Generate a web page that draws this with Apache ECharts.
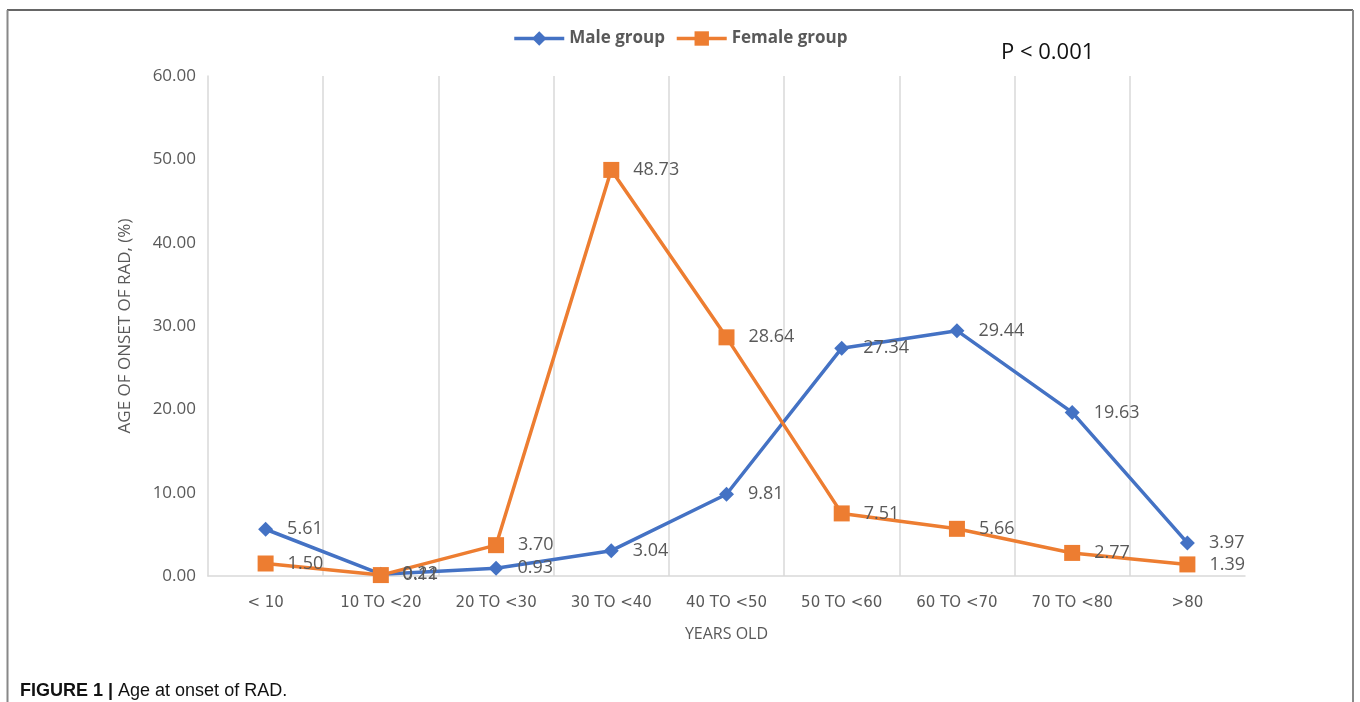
<!DOCTYPE html>
<html>
<head>
<meta charset="utf-8">
<script src="https://cdn.jsdelivr.net/npm/echarts@6/dist/echarts.min.js"></script>
<style>
html,body{margin:0;padding:0;background:#fff;}
#chart{width:1360px;height:702px;}
</style>
</head>
<body>
<div id="chart"></div>
<script>
const categories = ['< 10', '10 TO <20', '20 TO <30', '30 TO <40', '40 TO <50', '50 TO <60', '60 TO <70', '70 TO <80', '>80'];
const maleValues = [5.61, 0.22, 0.93, 3.04, 9.81, 27.34, 29.44, 19.63, 3.97];
const femaleValues = [1.50, 0.11, 3.70, 48.73, 28.64, 7.51, 5.66, 2.77, 1.39];
const yTicks = [0, 10, 20, 30, 40, 50, 60];

const chart = echarts.init(document.getElementById('chart'));
const gray = '#595959';
const font = '"Open Sans", "Noto Sans", sans-serif';
const labelStyle = {
  show: true, position: 'right', distance: 14,
  color: gray, fontSize: 18, fontFamily: font,
  formatter: p => p.value.toFixed(2)
};
chart.setOption({
  animation: false,
  backgroundColor: '#fff',
  legend: {
    top: 25, left: 'center',
    itemWidth: 50, itemHeight: 18, itemGap: 10,
    lineStyle: { width: 3.5 },
    textStyle: { color: gray, fontSize: 17, fontWeight: 'bold', fontFamily: font },
    data: ['Male group', 'Female group']
  },
  grid: { left: 208, right: 115, top: 76, bottom: 126 },
  xAxis: {
    type: 'category', data: categories, boundaryGap: true,
    name: 'YEARS OLD', nameLocation: 'middle', nameGap: 50,
    nameTextStyle: { color: gray, fontSize: 16, fontFamily: font },
    axisLine: { lineStyle: { color: '#d9d9d9', width: 1.5 } },
    axisTick: { show: false },
    axisLabel: { color: gray, fontSize: 15, fontFamily: '"DejaVu Sans", sans-serif', margin: 20, interval: 0 },
    splitLine: { show: true, showMinLine: false, showMaxLine: false, lineStyle: { color: '#d9d9d9', width: 1.5 } }
  },
  yAxis: {
    type: 'value', min: yTicks[0], max: yTicks[yTicks.length - 1], interval: 10,
    name: 'AGE OF ONSET OF RAD, (%)', nameLocation: 'middle', nameGap: 74, nameRotate: 90,
    nameTextStyle: { color: gray, fontSize: 17, fontFamily: font },
    axisLine: { show: true, lineStyle: { color: '#d9d9d9', width: 1.5 } },
    axisTick: { show: false },
    splitLine: { show: false },
    axisLabel: { color: gray, fontSize: 17, fontFamily: font, margin: 12, formatter: v => v.toFixed(2) }
  },
  series: [
    {
      name: 'Male group', type: 'line', data: maleValues,
      symbol: 'diamond', symbolSize: 15,
      itemStyle: { color: '#4472C4' },
      lineStyle: { color: '#4472C4', width: 3.5 },
      label: labelStyle
    },
    {
      name: 'Female group', type: 'line', data: femaleValues,
      symbol: 'rect', symbolSize: 16,
      itemStyle: { color: '#ED7D31' },
      lineStyle: { color: '#ED7D31', width: 3.5 },
      label: labelStyle
    }
  ],
  graphic: [
    { type: 'line', shape: { x1: 7, y1: 10, x2: 1353, y2: 10 }, style: { stroke: '#333', lineWidth: 1.5 } },
    { type: 'line', shape: { x1: 7.5, y1: 10, x2: 7.5, y2: 702 }, style: { stroke: '#888', lineWidth: 2 } },
    { type: 'line', shape: { x1: 1353, y1: 10, x2: 1353, y2: 702 }, style: { stroke: '#888', lineWidth: 2 } },
    { type: 'text', left: 1001, top: 42, style: { text: 'P < 0.001', fill: '#111', fontSize: 22, fontFamily: font } },
    { type: 'text', left: 20, top: 682, style: {
        rich: {
          b: { fontWeight: 'bold', fontSize: 18, fill: '#111', fontFamily: '"Liberation Sans", Arial, sans-serif' },
          n: { fontSize: 18, fill: '#111', fontFamily: '"Liberation Sans", Arial, sans-serif' }
        },
        text: '{b|FIGURE 1 |}{n| Age at onset of RAD.}'
      } }
  ]
});
</script>
</body>
</html>
